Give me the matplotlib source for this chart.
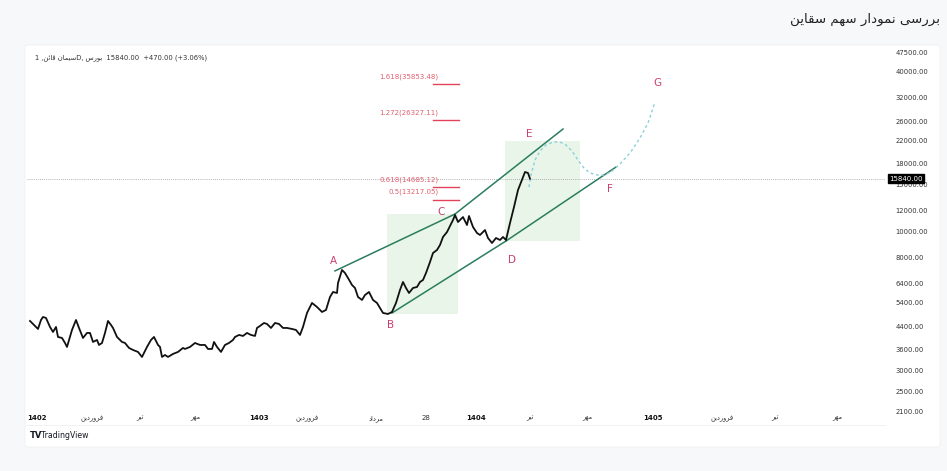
import matplotlib
matplotlib.use("Agg")
import matplotlib.pyplot as plt
from matplotlib.patches import FancyBboxPatch, Rectangle
from matplotlib.lines import Line2D
from matplotlib.ticker import NullLocator, NullFormatter
import matplotlib.transforms as mtransforms

# Persian strings are kept already shaped (presentation forms, visual order)
# since matplotlib has no arabic shaping / bidi
TITLE = "\uFEE6\uFEF3\uFE8E\uFED8\uFEB3 \uFEE2\uFEEC\uFEB3 \uFEAD\uFE8D\uFEA9\uFEEE\uFEE4\uFEE7 \uFEF0\uFEB3\uFEAD\uFEAE\uFE91"
SYMBOL = "1 ,\uFEE6\uFE8B\uFE8E\uFED7 \uFEE5\uFE8E\uFEE4\uFEF4\uFEB3D, \uFEB1\uFEAD\uFEEE\uFE91"
FARVARDIN = "\uFEE6\uFEF3\uFEA9\uFEAD\uFEED\uFEAE\uFED3"
TIR = "\uFEAE\uFEF4\uFE97"
MEHR = "\uFEAE\uFEEC\uFEE3"
MORDAD = "\uFEA9\uFE8D\uFEA9\uFEAE\uFEE3"

# daily close (time position on the chart axis, price)
t = [30, 35, 38, 41, 43, 46, 50, 53, 56, 58, 62, 65, 67, 72, 76, 79, 83, 87, 90, 93,
     97, 99, 102, 105, 108, 111, 113, 117, 122, 125, 129, 133, 138, 142, 147, 151, 154, 158, 160, 162,
     165, 168, 173, 178, 183, 185, 190, 195, 200, 205, 208, 212, 214, 217, 221, 225, 229, 233, 235, 239,
     243, 247, 251, 255, 257, 260, 264, 267, 271, 275, 279, 283, 287, 292, 296, 300, 303, 307, 312, 317,
     322, 326, 330, 333, 337, 338, 342, 345, 348, 352, 355, 358, 362, 365, 369, 373, 377, 380, 383, 388,
     392, 396, 400, 403, 406, 409, 413, 417, 420, 423, 426, 430, 433, 437, 440, 443, 447, 449, 453, 455,
     458, 463, 467, 469, 473, 477, 480, 485, 488, 492, 496, 500, 503, 506, 510, 514, 518, 523, 525, 528, 530]
close = [4610, 4415, 4301, 4650, 4772, 4732, 4377, 4191, 4377, 4013, 3978, 3809, 3680, 4264, 4650, 4339, 3978, 4155, 4155, 3843,
         3910, 3744, 3809, 4155, 4610, 4453, 4339, 4013, 3843, 3809, 3648, 3585, 3524, 3374, 3680, 3910, 4013, 3744, 3680, 3374,
         3432, 3374, 3463, 3524, 3648, 3616, 3680, 3809, 3744, 3744, 3616, 3616, 3843, 3680, 3524, 3744, 3809, 3910, 4013, 4083,
         4048, 4155, 4083, 4048, 4339, 4415, 4530, 4492, 4339, 4530, 4492, 4339, 4339, 4301, 4264, 4083, 4377, 4941, 5389, 5205,
         4984, 5071, 5676, 5927, 5876, 6409, 7174, 6989, 6693, 6298, 6137, 5676, 5531, 5775, 5927, 5531, 5389, 5160, 4941, 4898,
         4984, 5389, 6031, 6465, 6137, 5876, 6137, 6190, 6465, 6578, 6989, 7689, 8312, 8531, 8910, 9550, 9970, 10320, 11065, 11555,
         10875, 11355, 10595, 11455, 10415, 9886, 9716, 10145, 9467, 9066, 9467, 9304, 9550, 9304, 10780, 12385, 14350, 16060, 16780, 16635, 15840]
last_price = 15840

# fibonacci extension levels
fib_ratio = ["1.618", "1.272", "0.618", "0.5"]
fib_price = [35853.48, 26327.11, 14685.12, 13217.05]
fib_span = [433, 459]

# channel lines (t0, t1, p0, p1)
channel = [(335, 455, 7115, 11653),
           (455, 563, 11653, 24360),
           (392, 506, 4941, 9223),
           (506, 616, 9223, 17520)]

# shaded zones (t0, t1, p_low, p_high)
zones = [(387, 458, 4898, 11653),
         (505, 580, 9223, 21955)]

# wave labels
waves = ["A", "B", "C", "D", "E", "F", "G"]
wave_t = [333, 391, 441, 512, 529, 610, 657]
wave_p = [7752, 4453, 11860, 7822, 23330, 14475, 36290]

# projected path
proj_t = [529, 531, 535, 540, 546, 553, 560, 566, 572, 578, 584, 590, 597, 604, 611, 620, 630, 640, 648, 655]
proj_p = [14730, 16350, 18610, 20130, 21200, 21760, 21760, 21200, 20130, 18610, 17370, 16635, 16350, 16350, 16780,
          17985, 19790, 22530, 25670, 30790]

y_ticks = [47500, 40000, 32000, 26000, 22000, 18000, 15000, 12000, 10000, 8000, 6400, 5400,
           4400, 3600, 3000, 2500, 2100]
x_ticks = [37, 92, 140, 195, 259, 307, 376, 426, 476, 530, 587, 653, 722, 775, 837]
x_labels = ["1402", FARVARDIN, TIR, MEHR, "1403", FARVARDIN, MORDAD, "28", "1404", TIR, MEHR, "1405",
            FARVARDIN, TIR, MEHR]

W, H = 947, 471
fig = plt.figure(figsize=(W / 100, H / 100), dpi=100, facecolor="#f7f8fa")

panel = FancyBboxPatch((25 / W, 1 - 447 / H), 915 / W, 402 / H, boxstyle="round,pad=0,rounding_size=0.004",
                       transform=fig.transFigure, facecolor="white", edgecolor="#eeeeee", lw=0.5, zorder=-10)
fig.patches.append(panel)

fig.text(940 / W, 1 - 19 / H, TITLE, ha="right", va="center", fontsize=9.6, color="#222222",
         family="DejaVu Sans")

ax = fig.add_axes([27 / W, 1 - 413 / H, 858 / W, 367 / H], zorder=2)
ax.set_facecolor("none")
ax.set_yscale("log")
ax.set_xlim(27, 885)
ax.set_ylim(2075, 50050)
for s in ax.spines.values():
    s.set_visible(False)

ax.axhline(last_price, color="#9a9a9a", lw=0.6, ls=(0, (1, 1.5)), zorder=1)

for t0, t1, lo, hi in zones:
    ax.add_patch(Rectangle((t0, lo), t1 - t0, hi - lo, facecolor="#e5f4e5", alpha=0.85, edgecolor="none", zorder=0))

for t0, t1, p0, p1 in channel:
    ax.plot([t0, t1], [p0, p1], color="#2b7d5e", lw=1.1, zorder=2)

ax.plot(proj_t, proj_p, color="#8ccfdc", lw=1.0, ls=(0, (2, 2)), zorder=2)

ax.plot(t, close, color="#111111", lw=1.3, zorder=3)

for r, p in zip(fib_ratio, fib_price):
    ax.plot(fib_span, [p, p], color="#e2435a", lw=1.0, zorder=2)
    ax.annotate(f"{r}({p:.2f})", (fib_span[0], p), xytext=(4, 3), textcoords="offset points",
                ha="right", va="bottom", fontsize=5, color="#e0606e")

for lab, wt, wp in zip(waves, wave_t, wave_p):
    ax.text(wt, wp, lab, ha="center", va="center", fontsize=7.5, color="#cc3f72", zorder=4)

ax.yaxis.tick_right()
ax.set_yticks(y_ticks)
ax.set_yticklabels([f"{v:.2f}" for v in y_ticks])
ax.yaxis.set_minor_locator(NullLocator())
ax.yaxis.set_minor_formatter(NullFormatter())
ax.tick_params(axis="y", length=0, pad=7.5, labelsize=4.9, labelcolor="#333333")

ax.set_xticks(x_ticks)
ax.set_xticklabels(x_labels)
ax.tick_params(axis="x", length=0, pad=1.5, labelsize=5, labelcolor="#333333")
for lbl, txt in zip(ax.get_xticklabels(), x_labels):
    if txt.isdigit() and len(txt) == 4:
        lbl.set_fontweight("bold")
        lbl.set_color("#111111")
    if not txt.isdigit():
        lbl.set_family("DejaVu Sans")
        lbl.set_fontsize(4.8)

# last price tag on the price scale
trans = mtransforms.blended_transform_factory(ax.transAxes, ax.transData)
ax.text(1.005, last_price, f"{last_price:.2f}", transform=trans, ha="left", va="center", fontsize=5,
        color="white", zorder=5, clip_on=False,
        bbox=dict(boxstyle="square,pad=0.2", facecolor="black", edgecolor="black"))

# legend line
fig.text(35 / W, 1 - 58 / H, SYMBOL + "  15840.00  +470.00 (+3.06%)", ha="left", va="center", fontsize=4.9,
         color="#333333")

fig.lines.append(Line2D([25 / W, 885 / W], [1 - 425 / H, 1 - 425 / H], transform=fig.transFigure,
                        color="#efefef", lw=0.6))
fig.text(30 / W, 1 - 436 / H, "TV", ha="left", va="center", fontsize=6, fontweight="heavy", color="#131722")
fig.text(41 / W, 1 - 436 / H, "TradingView", ha="left", va="center", fontsize=5.6, color="#131722")

fig.savefig("out.png", dpi=100, facecolor=fig.get_facecolor())
